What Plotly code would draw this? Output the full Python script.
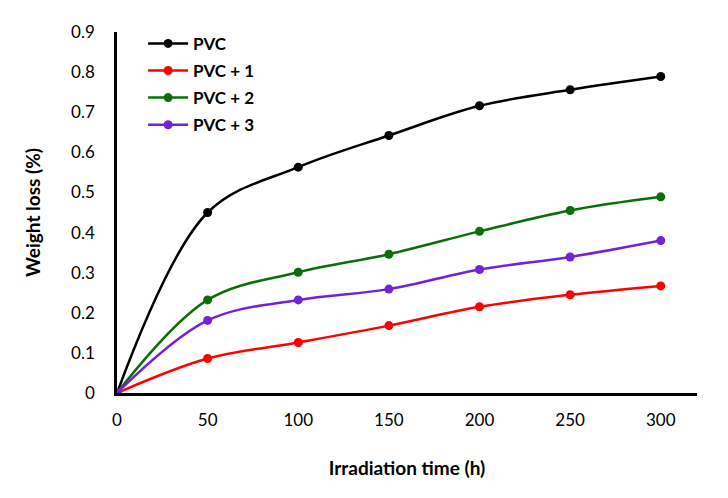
import plotly.graph_objects as go

time_h = [0, 50, 100, 150, 200, 250, 300]
pvc = [0, 0.45, 0.563, 0.642, 0.716, 0.756, 0.789]
pvc1 = [0, 0.086, 0.126, 0.168, 0.215, 0.245, 0.267]
pvc2 = [0, 0.232, 0.301, 0.346, 0.403, 0.455, 0.489]
pvc3 = [0, 0.181, 0.232, 0.259, 0.308, 0.339, 0.380]

series = [
    ("PVC", pvc, "#000000"),
    ("PVC + 1", pvc1, "#ff0000"),
    ("PVC + 2", pvc2, "#0b6e0b"),
    ("PVC + 3", pvc3, "#7322d4"),
]

x_ticks = [0, 50, 100, 150, 200, 250, 300]
y_ticks = [0, 0.1, 0.2, 0.3, 0.4, 0.5, 0.6, 0.7, 0.8, 0.9]
y_labels = ["0", "0.1", "0.2", "0.3", "0.4", "0.5", "0.6", "0.7", "0.8", "0.9"]

font = "Lato, 'Open Sans', sans-serif"

fig = go.Figure()
for i, (name, vals, col) in enumerate(series):
    fig.add_trace(go.Scatter(
        x=time_h, y=vals, name=name, mode="lines+markers",
        line=dict(color=col, width=2.5, shape="spline", smoothing=1),
        marker=dict(color=col, size=9),
        legendgroup=str(i),
    ))

fig.update_layout(
    width=728, height=498,
    margin=dict(l=109, r=39, t=24, b=113, autoexpand=False),
    paper_bgcolor="white", plot_bgcolor="white",
    font=dict(family=font, size=17, color="#000000"),
    showlegend=True,
    legend=dict(x=0.045, y=1.017, xanchor="left", yanchor="top",
                font=dict(family=font, size=17, color="#000000", weight="bold"),
                bgcolor="rgba(0,0,0,0)", tracegroupgap=2,
                itemwidth=40),
    xaxis=dict(range=[0, 320], tickvals=x_ticks, showgrid=False, zeroline=False,
               showline=True, linecolor="#000000", linewidth=2.5,
               ticks="", ticklabelstandoff=10,
               tickfont=dict(family=font, size=17, color="#000000"),
               title=dict(text="Irradiation time (h)", standoff=33,
                          font=dict(family=font, size=19, color="#000000", weight="bold"))),
    yaxis=dict(range=[0, 0.9], tickvals=y_ticks, ticktext=y_labels, showgrid=False,
               zeroline=False, showline=True, linecolor="#000000", linewidth=2.5,
               ticks="", ticklabelstandoff=16,
               tickfont=dict(family=font, size=17, color="#000000"),
               title=dict(text="Weight loss (%)", standoff=26,
                          font=dict(family=font, size=19, color="#000000", weight="bold"))),
)

fig.write_html("out.html")
